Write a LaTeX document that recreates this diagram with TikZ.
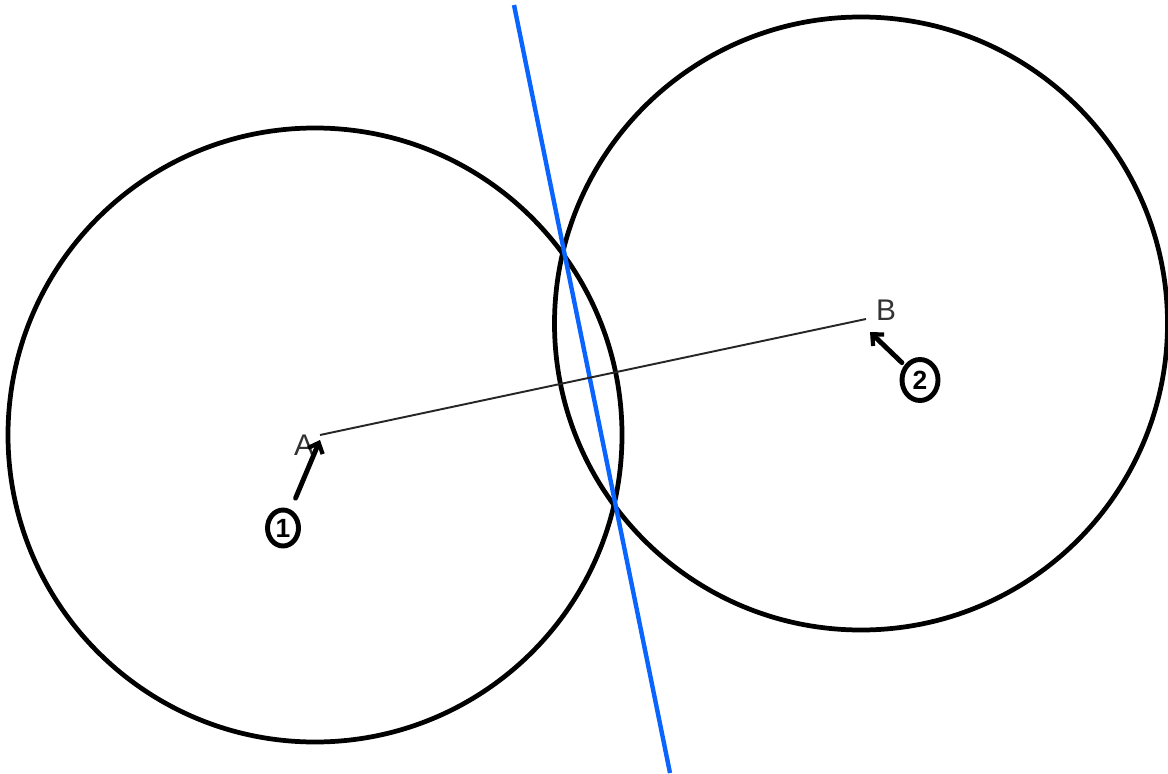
\documentclass[tikz,border=0pt]{standalone}
\usepackage{fontspec}
\setsansfont{Liberation Sans}
\usetikzlibrary{arrows.meta,positioning,calc,shapes.geometric}

\definecolor{bisector}{RGB}{10,100,255}

\begin{document}
\begin{tikzpicture}[
  ring/.style={draw, line width=2.7pt},
  pt/.style={font=\sffamily\fontsize{17}{17}\selectfont, text=black!80},
  tag/.style={ellipse, draw, line width=2.8pt, inner sep=0pt, minimum width=0.62cm, minimum height=0.72cm, font=\sffamily\bfseries\fontsize{15}{15}\selectfont},
  hand/.style={-{Straight Barb[length=5pt, width=9pt, line width=2.4pt]}, line width=2.8pt, line cap=round}
]
\useasboundingbox (0,0) rectangle (23.36,15.46);

\coordinate (cA) at (6.30,6.76);
\coordinate (cB) at (17.22,8.99);
\coordinate (A) at (6.40,6.76);
\coordinate (B) at (17.32,9.08);

\draw[ring] (cA) circle (6.14cm);
\draw[ring] (cB) circle (6.13cm);

% perpendicular bisector
\coordinate (top) at (10.28,15.36);
\coordinate (bot) at (13.40,0);
\draw[bisector, line width=2.5pt] (top) -- (bot);

\draw[black!85, line width=1.1pt] (A) -- (B);
\node[pt] (labA) at (6.08,6.55) {A};
\node[pt] (labB) at (17.72,9.26) {B};

\node[tag] (one) at (5.66,4.90) {1};
\node[tag, minimum width=0.72cm, minimum height=0.82cm] (two) at (18.40,7.86) {2};

\coordinate (tipA) at (6.40,6.66);
\coordinate (tipB) at (17.40,8.82);
\draw[hand, shorten <=7pt] (one) -- (tipA);
\draw[hand, shorten <=2pt] (two) -- (tipB);

\end{tikzpicture}
\end{document}
